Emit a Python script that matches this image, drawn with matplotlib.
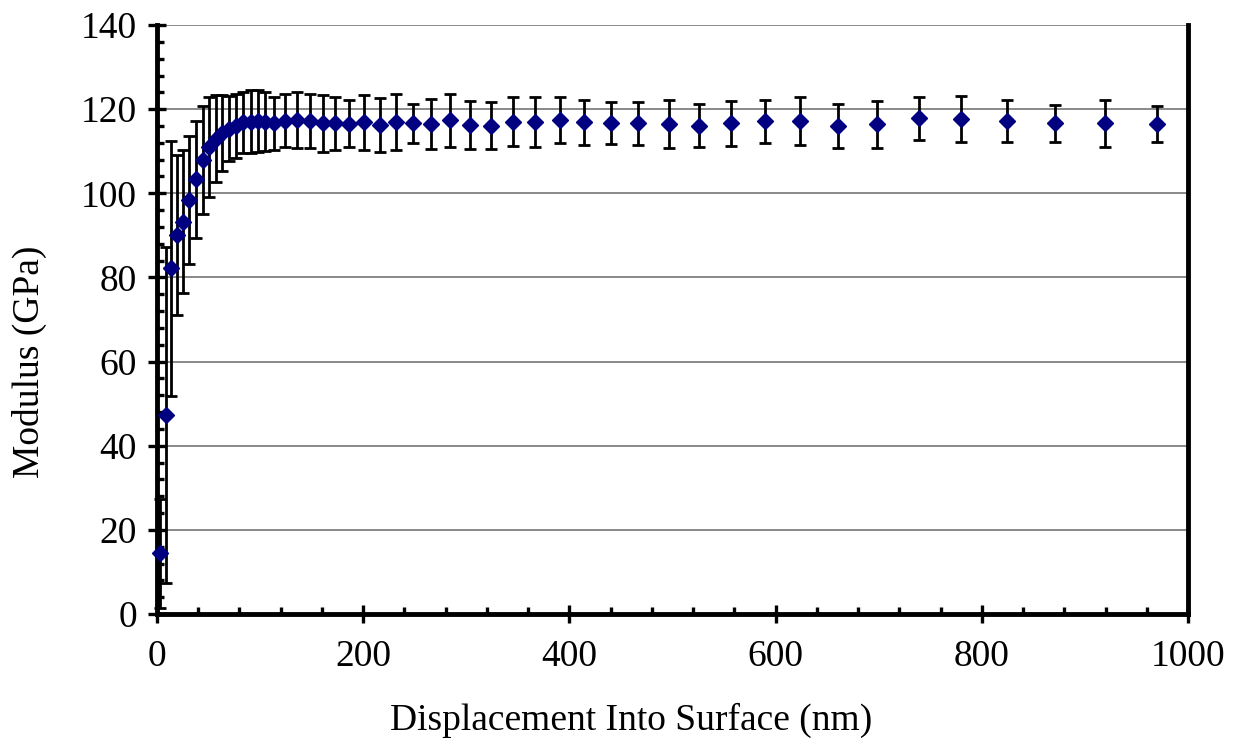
import matplotlib
matplotlib.use("Agg")
import matplotlib.pyplot as plt
from matplotlib.ticker import MultipleLocator

# indentation depth (nm), mean modulus (GPa) and standard deviation
depth = [2.9, 8.4, 13.6, 19.1, 24.9, 31.3, 37.8, 44.9, 50.9, 57.2,
         63.5, 69.8, 77.1, 83.9, 90.7, 97.5, 104.8, 113.5, 124.2, 135.5,
         148.5, 160.6, 172.6, 186.5, 201.1, 216.3, 231.5, 248.0, 265.8, 284.2,
         303.6, 324.0, 345.0, 366.6, 390.9, 414.2, 440.1, 466.9, 496.6, 526.0,
         556.7, 589.7, 623.7, 660.5, 698.6, 739.1, 780.1, 824.4, 871.3, 919.5,
         970.2]
modulus = [14.4, 47.3, 82.2, 90.1, 93.3, 98.4, 103.3, 107.9, 111.0, 113.0,
           114.3, 115.4, 116.0, 116.9, 117.0, 117.2, 117.0, 116.6, 117.3, 117.4,
           117.1, 116.6, 116.6, 116.5, 116.9, 116.3, 116.9, 116.6, 116.5, 117.4,
           116.3, 116.1, 117.0, 116.9, 117.4, 116.9, 116.7, 116.6, 116.4, 116.1,
           116.6, 117.1, 117.3, 116.0, 116.4, 117.8, 117.6, 117.1, 116.6, 116.6,
           116.4]
std_dev = [13.0, 39.9, 30.3, 19.0, 17.0, 15.3, 14.0, 12.8, 11.8, 10.3,
           9.0, 7.8, 7.5, 7.3, 7.5, 7.3, 7.0, 6.4, 6.2, 6.6,
           6.4, 6.7, 6.4, 5.6, 6.5, 6.4, 6.7, 4.6, 5.9, 6.3,
           5.7, 5.5, 5.8, 5.9, 5.4, 5.3, 5.0, 5.0, 5.7, 5.1,
           5.3, 5.1, 5.7, 5.3, 5.6, 5.1, 5.5, 5.0, 4.5, 5.6,
           4.3]

plt.rcParams['font.family'] = ['Liberation Serif', 'DejaVu Serif']
plt.rcParams['font.size'] = 27

fig = plt.figure(figsize=(12.41, 7.43), dpi=100)
ax = fig.add_axes([0.1265, 0.1736, 0.8308, 0.7927])

ax.errorbar(depth, modulus, yerr=std_dev, fmt='D', color='#000080',
            markersize=8.5, ecolor='black', elinewidth=2, capsize=4,
            capthick=2, zorder=3, clip_on=False)

ax.set_xlim(0, 1000)
ax.set_ylim(0, 140)
ax.xaxis.set_major_locator(MultipleLocator(200))
ax.xaxis.set_minor_locator(MultipleLocator(40))
ax.yaxis.set_major_locator(MultipleLocator(20))
ax.yaxis.set_minor_locator(MultipleLocator(4))

ax.yaxis.grid(True, which='major', color='#808080', linewidth=1.3)
ax.set_axisbelow(True)

for side in ['left', 'bottom', 'right']:
    ax.spines[side].set_linewidth(3.5)
    ax.spines[side].set_color('black')
ax.spines['top'].set_visible(False)

ax.tick_params(which='major', direction='inout', length=13, width=2.4,
               color='black', pad=8)
ax.tick_params(which='minor', direction='in', length=5, width=2.4,
               color='black')
ax.tick_params(axis='x', which='major', pad=12)

ax.set_xlabel('Displacement Into Surface (nm)')
ax.set_ylabel('Modulus (GPa)')
ax.xaxis.set_label_coords(0.46, -0.15)
ax.yaxis.set_label_coords(-0.107, 0.428)

fig.savefig('out.png', dpi=100)
